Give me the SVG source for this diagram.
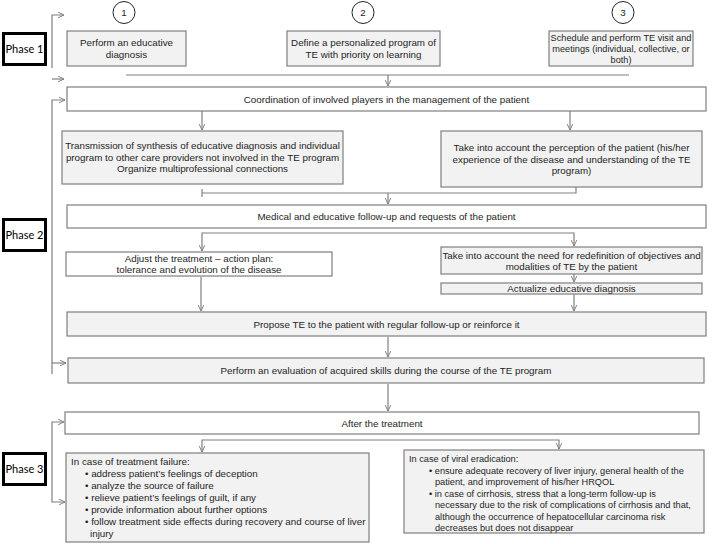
<svg xmlns="http://www.w3.org/2000/svg" width="716" height="544" viewBox="0 0 716 544">
<defs>
<marker id="arr" viewBox="0 0 10 10" refX="9.5" refY="5" markerWidth="7" markerHeight="7" markerUnits="userSpaceOnUse" orient="auto">
<path d="M1,1 L9.5,5 L1,9" fill="none" stroke="#808080" stroke-width="1.4"/>
</marker>
</defs>
<style>
.bx{stroke:#7f7f7f;stroke-width:1.2;fill:#ffffff}
.sh{fill:#f2f2f2}
.ph{fill:#ffffff;stroke:#000000;stroke-width:3}
.t{font-family:"Liberation Sans",Arial,sans-serif;font-size:9.8px;fill:#1e1e1e}
.s{font-size:9.2px}
.c{text-anchor:middle}
.pt{font-family:Lato,"Open Sans",sans-serif;font-size:11px;fill:#000;text-anchor:middle}
.ln{fill:none;stroke:#808080;stroke-width:1.2}
.ar{fill:none;stroke:#808080;stroke-width:1.2;marker-end:url(#arr)}
.ci{fill:#fff;stroke:#222;stroke-width:1}
</style>

<g id="phase1"><rect class="ph" x="3.5" y="33.5" width="42" height="31"/><text class="pt" x="24.5" y="52.5">Phase 1</text></g>
<g id="phase2"><rect class="ph" x="3.5" y="219.5" width="42" height="31"/><text class="pt" x="24.5" y="238.5">Phase 2</text></g>
<g id="phase3"><rect class="ph" x="3.5" y="453.5" width="42" height="31"/><text class="pt" x="24.5" y="472.5">Phase 3</text></g>

<g id="step1"><circle class="ci" cx="124" cy="12.5" r="11"/><text class="t c" x="124" y="16">1</text></g>
<g id="step2"><circle class="ci" cx="363" cy="12.5" r="11"/><text class="t c" x="363" y="16">2</text></g>
<g id="step3"><circle class="ci" cx="623" cy="12.5" r="11"/><text class="t c" x="623" y="16">3</text></g>

<g id="n-diag"><rect class="bx sh" x="67" y="31" width="119" height="35"/><text class="t c" x="126.5" y="46">Perform an educative</text><text class="t c" x="126.5" y="58">diagnosis</text></g>
<g id="n-define"><rect class="bx sh" x="287" y="31" width="153" height="35"/><text class="t c" x="363.5" y="46">Define a personalized program of</text><text class="t c" x="363.5" y="58">TE with priority on learning</text></g>
<g id="n-schedule"><rect class="bx sh" x="549" y="31" width="144" height="35"/><text class="t s c" x="621" y="41">Schedule and perform TE visit and</text><text class="t s c" x="621" y="52">meetings (individual, collective, or</text><text class="t s c" x="621" y="63">both)</text></g>

<g id="n-coord"><rect class="bx" x="67" y="87" width="639" height="24"/><text class="t c" x="386.5" y="102.5">Coordination of involved players in the management of the patient</text></g>
<g id="n-trans"><rect class="bx sh" x="62" y="131" width="281" height="53"/><text class="t c" x="202.5" y="149">Transmission of synthesis of educative diagnosis and individual</text><text class="t c" x="202.5" y="160.5">program to other care providers not involved in the TE program</text><text class="t c" x="202.5" y="172">Organize multiprofessional connections</text></g>
<g id="n-percep"><rect class="bx sh" x="441" y="131" width="261" height="56"/><text class="t c" x="571.5" y="151">Take into account the perception of the patient (his/her</text><text class="t c" x="571.5" y="162.5">experience of the disease and understanding of the TE</text><text class="t c" x="571.5" y="174">program)</text></g>
<g id="n-medical"><rect class="bx" x="67" y="205" width="639" height="23"/><text class="t c" x="386.5" y="220">Medical and educative follow-up and requests of the patient</text></g>
<g id="n-adjust"><rect class="bx" x="66" y="252" width="266" height="24"/><text class="t c" x="199" y="262">Adjust the treatment – action plan:</text><text class="t c" x="199" y="273">tolerance and evolution of the disease</text></g>
<g id="n-redef"><rect class="bx sh" x="441" y="247" width="261" height="27"/><text class="t c" x="571.5" y="258.5">Take into account the need for redefinition of objectives and</text><text class="t c" x="571.5" y="269.5">modalities of TE by the patient</text></g>
<g id="n-actual"><rect class="bx sh" x="441" y="283" width="261" height="11"/><text class="t c" x="571.5" y="292">Actualize educative diagnosis</text></g>
<g id="n-propose"><rect class="bx sh" x="67" y="312" width="639" height="24"/><text class="t c" x="386.5" y="327.5">Propose TE to the patient with regular follow-up or reinforce it</text></g>
<g id="n-eval"><rect class="bx sh" x="68" y="358" width="636" height="25"/><text class="t c" x="386" y="374">Perform an evaluation of acquired skills during the course of the TE program</text></g>
<g id="n-after"><rect class="bx" x="65" y="412" width="634" height="22"/><text class="t c" x="382" y="426.5">After the treatment</text></g>
<g id="n-failure"><rect class="bx sh" x="66" y="453" width="303" height="89"/>
<text class="t" x="71" y="465">In case of treatment failure:</text>
<text class="t" x="85" y="477">• address patient’s feelings of deception</text>
<text class="t" x="85" y="489">• analyze the source of failure</text>
<text class="t" x="85" y="501">• relieve patient’s feelings of guilt, if any</text>
<text class="t" x="85" y="513">• provide information about further options</text>
<text class="t" x="85" y="525">• follow treatment side effects during recovery and course of liver</text>
<text class="t" x="90" y="537">injury</text></g>
<g id="n-viral"><rect class="bx sh" x="404" y="450" width="300" height="83"/>
<text class="t s" x="409" y="462">In case of viral eradication:</text>
<text class="t s" x="429" y="473.5">• ensure adequate recovery of liver injury, general health of the</text>
<text class="t s" x="435" y="485">patient, and improvement of his/her HRQOL</text>
<text class="t s" x="429" y="496.5">• in case of cirrhosis, stress that a long-term follow-up is</text>
<text class="t s" x="435" y="508">necessary due to the risk of complications of cirrhosis and that,</text>
<text class="t s" x="435" y="519.5">although the occurrence of hepatocellular carcinoma risk</text>
<text class="t s" x="435" y="531">decreases but does not disappear</text></g>

<g id="connectors">
<path class="ar" d="M52,68 V15 H64"/>
<path class="ar" d="M52,79 H64"/>
<path class="ln" d="M126,75 H629"/>
<path class="ar" d="M388,75 V86"/>
<path class="ar" d="M52,374 V100 H65"/>
<path class="ar" d="M52,363 H66"/>
<path class="ar" d="M202,111 V130"/>
<path class="ar" d="M570,111 V130"/>
<path class="ln" d="M202,189 V197 M202,193 H576 V187"/>
<path class="ar" d="M388,193 V204"/>
<path class="ar" d="M388,233 H202 V251"/>
<path class="ar" d="M388,233 H574 V246"/>
<path class="ar" d="M201,277 V311"/>
<path class="ar" d="M574,274 V282"/>
<path class="ar" d="M574,294 V311"/>
<path class="ar" d="M388,337 V357"/>
<path class="ar" d="M388,384 V411"/>
<path class="ar" d="M52,462 V422 H64"/>
<path class="ar" d="M52,462 V502 H65"/>
<path class="ar" d="M380,440 H202 V452"/>
<path class="ar" d="M380,440 H559 V449"/>
</g>
</svg>
